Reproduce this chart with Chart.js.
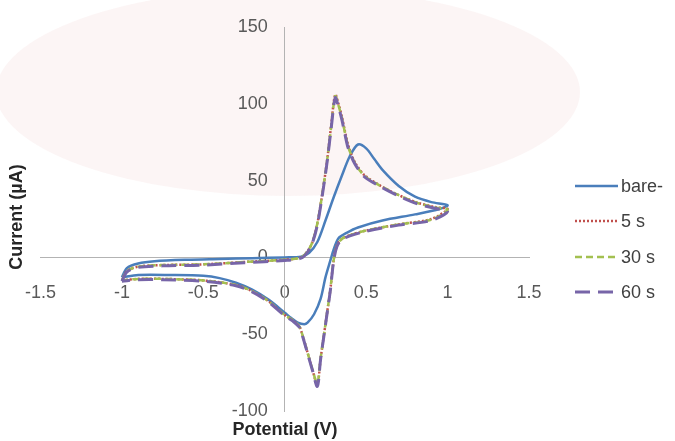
<!DOCTYPE html>
<html>
<head>
<meta charset="utf-8">
<script src="https://cdn.jsdelivr.net/npm/chart.js@4"></script>
<style>
  html, body { margin: 0; padding: 0; background: #fff; }
  #wrap { width: 675px; height: 441px; position: relative; }
</style>
</head>
<body>
<div id="wrap"><canvas id="cvChart"></canvas></div>
<script>
// Bare electrode: forward scan -1 -> 1 V, then reverse scan 1 -> -1 V
const bareUpV = [-1, -0.97, -0.9, -0.8, -0.6, -0.4, -0.2, 0, 0.1, 0.15, 0.2, 0.25, 0.3, 0.35, 0.4, 0.45, 0.5, 0.55, 0.6, 0.7, 0.8, 0.9, 1];
const bareUpI = [-13, -7, -4, -2.5, -1.5, -1, -0.5, 0, 0.5, 3, 10, 24, 39, 53, 66, 73.5, 71, 64, 57, 46.5, 39.5, 36, 34];
const bareDownV = [0.95, 0.8, 0.6, 0.45, 0.38, 0.33, 0.3, 0.28, 0.25, 0.22, 0.18, 0.14, 0.12, 0.08, 0.04, 0, -0.1, -0.2, -0.3, -0.4, -0.5, -0.7, -0.9, -1];
const bareDownI = [31.5, 28, 24, 19.5, 16, 12.5, 5, -2, -13, -27, -37, -42.5, -43.5, -42.5, -39.5, -36, -27.5, -21, -16.5, -13.5, -12, -11.5, -11.5, -13];

// Modified electrodes share the same potential steps
const modUpV = [-1, -0.97, -0.9, -0.75, -0.5, -0.25, 0, 0.1, 0.14, 0.17, 0.2, 0.23, 0.26, 0.285, 0.31, 0.33, 0.35, 0.37, 0.39, 0.43, 0.49, 0.59, 0.69, 0.81, 0.93, 1];
const modDownV = [0.9, 0.7, 0.5, 0.4, 0.35, 0.32, 0.3, 0.28, 0.26, 0.24, 0.22, 0.2, 0.17, 0.14, 0.11, 0.09, 0.05, 0, -0.1, -0.2, -0.3, -0.5, -0.75, -0.9, -1];

const fiveUpI = [-15, -9, -6, -5, -4.5, -3, -1.5, 0, 4, 10, 22, 41, 63, 86, 106, 100, 92, 82, 73, 62, 53.5, 46.5, 41, 35.8, 32.6, 31.5];
const fiveDownI = [25, 21.5, 17.5, 14.5, 12, 8, -2, -21, -36, -51, -66, -83, -73, -62, -51, -45, -41, -37.5, -28.5, -22, -18, -15, -14, -14, -15];
const thirtyUpI = [-15, -9, -6, -5, -4.5, -3, -1.5, 0, 4, 10, 22, 41, 63, 85, 105, 99, 91, 81, 72, 61.5, 53, 46.4, 41, 35.6, 32.4, 31];
const thirtyDownI = [24.5, 21.5, 17.5, 14.5, 12, 7.5, -2, -21, -36, -51, -66, -82, -73, -62, -51, -45, -41, -37.5, -28.5, -22, -18, -15, -14, -14, -15];
const sixtyUpI = [-15.5, -9.5, -6.5, -5.5, -5, -3.5, -2, -0.5, 3.5, 9.5, 21, 40, 62, 84, 104, 98, 90, 80, 71, 61, 52.5, 46, 40.5, 35, 31.8, 30];
const sixtyDownI = [24, 21, 17, 14, 11.5, 7, -2.5, -21.5, -36.5, -51.5, -66.5, -84, -73.5, -62.5, -51.5, -45.5, -41.5, -38, -29, -22.5, -18.5, -15.5, -14.5, -14.5, -15.5];

const seriesNames = ['bare-', '5 s', '30 s', '60 s'];
const seriesColors = ['#4a7ebb', '#c0504d', '#a3c050', '#7765a8'];

function loop(upV, upI, downV, downI) {
  const pts = upV.map((v, i) => ({ x: v, y: upI[i] }));
  return pts.concat(downV.map((v, i) => ({ x: v, y: downI[i] })));
}

const tickColor = '#595959';
const axisColor = '#b3b3b3';
const tickFont = { family: '"Liberation Sans", Arial, sans-serif', size: 18 };

// faint pink backdrop; also pulls the y tick labels away from the axis line
const backdrop = {
  id: 'backdrop',
  beforeDraw(chart) {
    const ctx = chart.ctx;
    ctx.save();
    ctx.fillStyle = '#ffffff';
    ctx.fillRect(0, 0, chart.width, chart.height);
    ctx.fillStyle = 'rgba(238, 200, 200, 0.18)';
    ctx.beginPath();
    ctx.ellipse(288, 92, 292, 104, 0, 0, Math.PI * 2);
    ctx.fill();
    ctx.restore();

    const items = chart.scales.y.getLabelItems(chart.chartArea);
    if (!items._moved) {
      items.forEach(it => { it.options.translation[0] -= 17; });
      items._moved = true;
    }
  }
};

// axis titles and the legend on the right
const annotations = {
  id: 'annotations',
  afterDraw(chart) {
    const ctx = chart.ctx;
    ctx.save();
    ctx.fillStyle = '#262626';
    ctx.font = 'bold 18px "Liberation Sans", Arial, sans-serif';
    ctx.textAlign = 'center';
    ctx.textBaseline = 'middle';
    ctx.fillText('Potential (V)', 285, 430);
    ctx.translate(17, 217);
    ctx.rotate(-Math.PI / 2);
    ctx.fillText('Current (\u00b5A)', 0, 0);
    ctx.restore();

    const rows = [186, 221, 257, 292];
    ctx.save();
    ctx.font = '18px "Liberation Sans", Arial, sans-serif';
    ctx.textBaseline = 'middle';
    ctx.textAlign = 'left';
    chart.data.datasets.forEach((ds, i) => {
      const y = rows[i];
      ctx.strokeStyle = ds.borderColor;
      ctx.lineWidth = ds.borderWidth;
      ctx.setLineDash(ds.borderDash || []);
      ctx.beginPath();
      ctx.moveTo(575, y);
      ctx.lineTo(618, y);
      ctx.stroke();
      ctx.setLineDash([]);
      ctx.fillStyle = '#404040';
      ctx.fillText(ds.label, 621, y + 1);
    });
    ctx.restore();
  }
};

new Chart(document.getElementById('cvChart'), {
  type: 'scatter',
  data: {
    datasets: [
      {
        label: seriesNames[0],
        data: loop(bareUpV, bareUpI, bareDownV, bareDownI),
        borderColor: seriesColors[0],
        borderWidth: 2.5,
        order: 4
      },
      {
        label: seriesNames[1],
        data: loop(modUpV, fiveUpI, modDownV, fiveDownI),
        borderColor: seriesColors[1],
        borderWidth: 2.5,
        borderDash: [2, 2],
        order: 3
      },
      {
        label: seriesNames[2],
        data: loop(modUpV, thirtyUpI, modDownV, thirtyDownI),
        borderColor: seriesColors[2],
        borderWidth: 2.5,
        borderDash: [7, 4],
        order: 2
      },
      {
        label: seriesNames[3],
        data: loop(modUpV, sixtyUpI, modDownV, sixtyDownI),
        borderColor: seriesColors[3],
        borderWidth: 3,
        borderDash: [15, 8],
        order: 1
      }
    ].map(ds => Object.assign(ds, {
      showLine: true,
      fill: false,
      pointRadius: 0,
      tension: 0.3
    }))
  },
  options: {
    responsive: true,
    maintainAspectRatio: false,
    animation: false,
    events: [],
    layout: {
      padding: { left: 37, right: 146, top: 27, bottom: 30 }
    },
    plugins: {
      legend: { display: false },
      tooltip: { enabled: false }
    },
    scales: {
      x: {
        type: 'linear',
        min: -1.5,
        max: 1.5,
        position: { y: 0 },
        afterFit: scale => { scale.height = 0; },
        grid: { display: false, drawTicks: false },
        border: { display: true, color: axisColor, width: 1 },
        ticks: {
          stepSize: 0.5,
          padding: 25,
          color: tickColor,
          font: tickFont,
          callback: v => String(v)
        }
      },
      y: {
        type: 'linear',
        min: -100,
        max: 150,
        position: { x: 0 },
        afterFit: scale => { scale.width = 0; },
        grid: { display: false, drawTicks: false },
        border: { display: true, color: axisColor, width: 1 },
        ticks: {
          stepSize: 50,
          color: tickColor,
          font: tickFont,
          callback: v => String(v)
        }
      }
    }
  },
  plugins: [backdrop, annotations]
});
</script>
</body>
</html>
